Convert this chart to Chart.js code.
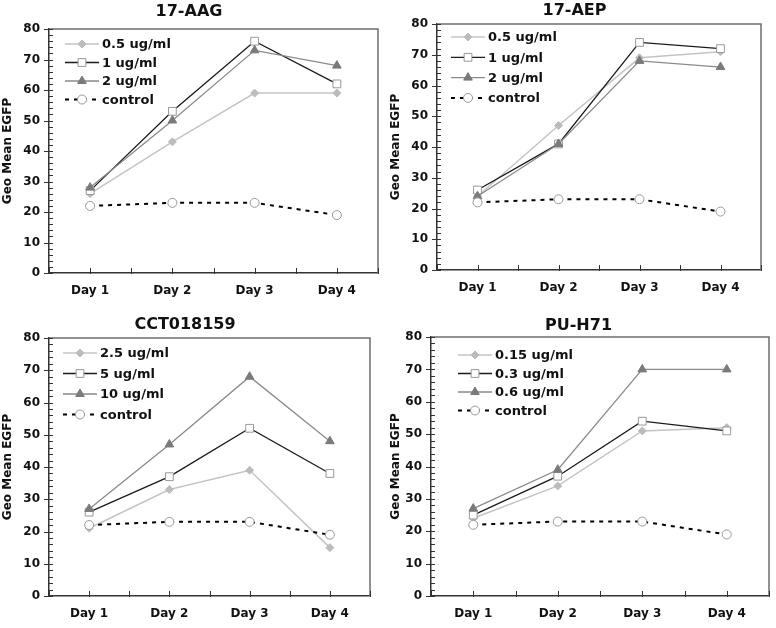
<!DOCTYPE html>
<html>
<head>
<meta charset="utf-8">
<script src="https://cdn.jsdelivr.net/npm/chart.js@4.4.1/dist/chart.umd.min.js"></script>
<style>
  html, body { margin: 0; padding: 0; background: #fff; }
  #wrap { position: relative; width: 776px; height: 628px; }
  .panel { position: absolute; width: 388px; }
</style>
</head>
<body>
<div id="wrap">
  <div class="panel" style="left:0;top:0;height:310px"><canvas id="c1"></canvas></div>
  <div class="panel" style="left:388px;top:0;height:310px"><canvas id="c2"></canvas></div>
  <div class="panel" style="left:0;top:310px;height:318px"><canvas id="c3"></canvas></div>
  <div class="panel" style="left:388px;top:310px;height:318px"><canvas id="c4"></canvas></div>
</div>
<script>
// values
const days = ['Day 1', 'Day 2', 'Day 3', 'Day 4'];
const controlEGFP = [22, 23, 23, 19];

const aagDoses = ['0.5 ug/ml', '1 ug/ml', '2 ug/ml', 'control'];
const aagLow = [26, 43, 59, 59];
const aagMid = [27, 53, 76, 62];
const aagHigh = [28, 50, 73, 68];

const aepDoses = ['0.5 ug/ml', '1 ug/ml', '2 ug/ml', 'control'];
const aepLow = [24, 47, 69, 71];
const aepMid = [26, 41, 74, 72];
const aepHigh = [24, 41, 68, 66];

const cctDoses = ['2.5 ug/ml', '5 ug/ml', '10 ug/ml', 'control'];
const cctLow = [21, 33, 39, 15];
const cctMid = [26, 37, 52, 38];
const cctHigh = [27, 47, 68, 48];

const puDoses = ['0.15 ug/ml', '0.3 ug/ml', '0.6 ug/ml', 'control'];
const puLow = [24, 34, 51, 52];
const puMid = [25, 37, 54, 51];
const puHigh = [27, 39, 70, 70];

const yMax = 80;
const yStep = 10;
const yMinorStep = 2;

Chart.defaults.font.family = '"DejaVu Sans", Verdana, sans-serif';

// line / marker look per series (low dose, mid dose, high dose, control)
const seriesStyle = [
  { borderColor: '#c4c4c4', borderWidth: 1.5, pointStyle: 'rectRot', pointRadius: 4,
    pointBackgroundColor: '#bcbcbc', pointBorderColor: '#bcbcbc', pointBorderWidth: 1 },
  { borderColor: '#1a1a1a', borderWidth: 1.3, pointStyle: 'rect', pointRadius: 5.5,
    pointBackgroundColor: '#fff', pointBorderColor: '#999', pointBorderWidth: 1 },
  { borderColor: '#8a8a8a', borderWidth: 1.3, pointStyle: 'triangle', pointRadius: 5,
    pointBackgroundColor: '#7a7a7a', pointBorderColor: '#7a7a7a', pointBorderWidth: 1 },
  { borderColor: '#000', borderWidth: 2, borderDash: [4, 5], pointStyle: 'circle', pointRadius: 4.5,
    pointBackgroundColor: '#fff', pointBorderColor: '#999', pointBorderWidth: 1 }
];

const panels = [
  { id: 'c1', title: '17-AAG', doses: aagDoses, series: [aagLow, aagMid, aagHigh, controlEGFP],
    h: 310, area: { left: 49, right: 378, top: 29, bottom: 273 }, titleY: 12,
    legend: { dx: 16, dy: 15, gap: 18.5 } },
  { id: 'c2', title: '17-AEP', doses: aepDoses, series: [aepLow, aepMid, aepHigh, controlEGFP],
    h: 310, area: { left: 49, right: 373, top: 24, bottom: 270 }, titleY: 11,
    legend: { dx: 14, dy: 13, gap: 20.3 } },
  { id: 'c3', title: 'CCT018159', doses: cctDoses, series: [cctLow, cctMid, cctHigh, controlEGFP],
    h: 318, area: { left: 49, right: 370, top: 28, bottom: 286 }, titleY: 15,
    legend: { dx: 14, dy: 15, gap: 20.5 } },
  { id: 'c4', title: 'PU-H71', doses: puDoses, series: [puLow, puMid, puHigh, controlEGFP],
    h: 318, area: { left: 43, right: 381, top: 27, bottom: 286 }, titleY: 16,
    legend: { dx: 27, dy: 18, gap: 18.5 } }
];

// top/right frame plus the small tick marks (major + minor on y, categories + boundaries on x)
const framePlugin = {
  id: 'frame',
  beforeDatasetsDraw(chart) {
    const { ctx, chartArea: a, scales: { x, y } } = chart;
    ctx.save();
    ctx.strokeStyle = '#6e6e6e';
    ctx.lineWidth = 1.5;
    ctx.beginPath();
    ctx.moveTo(a.left, a.top);
    ctx.lineTo(a.right, a.top);
    ctx.lineTo(a.right, a.bottom);
    ctx.stroke();

    ctx.strokeStyle = '#333';
    ctx.lineWidth = 1;
    for (let v = 0; v <= yMax; v += yMinorStep) {
      const py = Math.round(y.getPixelForValue(v)) + 0.5;
      const major = v % yStep === 0;
      ctx.beginPath();
      ctx.moveTo(a.left - (major ? 5 : 0), py);
      ctx.lineTo(a.left + 4, py);
      ctx.stroke();
    }
    for (let i = 0; i <= days.length; i++) {
      const pts = [x.getPixelForValue(i - 0.5)];
      if (i < days.length) pts.push(x.getPixelForValue(i));
      pts.forEach(px => {
        px = Math.round(px) + 0.5;
        ctx.beginPath();
        ctx.moveTo(px, a.bottom + 1);
        ctx.lineTo(px, a.bottom - 5);
        ctx.stroke();
      });
    }
    ctx.restore();
  }
};

// legend inside the plot: line sample with the marker in its middle
const insideLegend = {
  id: 'insideLegend',
  afterDraw(chart, args, opts) {
    const { ctx, chartArea: a } = chart;
    ctx.save();
    chart.data.datasets.forEach((ds, i) => {
      const yRow = a.top + opts.dy + i * opts.gap;
      const x0 = a.left + opts.dx;
      ctx.strokeStyle = ds.borderColor;
      ctx.lineWidth = ds.borderWidth;
      ctx.setLineDash(ds.borderDash || []);
      ctx.beginPath();
      ctx.moveTo(x0, yRow);
      ctx.lineTo(x0 + 34, yRow);
      ctx.stroke();
      ctx.setLineDash([]);
      ctx.fillStyle = ds.pointBackgroundColor;
      ctx.strokeStyle = ds.pointBorderColor;
      ctx.lineWidth = ds.pointBorderWidth;
      Chart.helpers.drawPoint(ctx, {
        pointStyle: ds.pointStyle, radius: ds.pointRadius, rotation: 0, borderWidth: ds.pointBorderWidth
      }, x0 + 17, yRow);
      ctx.fillStyle = '#111';
      ctx.font = 'bold 13px "DejaVu Sans", Verdana, sans-serif';
      ctx.textBaseline = 'middle';
      ctx.textAlign = 'left';
      ctx.fillText(ds.label, x0 + 37, yRow + 1);
    });
    ctx.restore();
  }
};

panels.forEach(p => {
  const datasets = p.series.map((vals, i) => Object.assign({
    label: p.doses[i],
    data: vals,
    fill: false,
    tension: 0,
    order: 3 - i
  }, seriesStyle[i]));

  new Chart(document.getElementById(p.id), {
    type: 'line',
    data: { labels: days, datasets: datasets },
    plugins: [framePlugin, insideLegend],
    options: {
      responsive: true,
      maintainAspectRatio: false,
      animation: false,
      layout: { padding: { left: 0, right: 388 - p.area.right, top: 0, bottom: 0 } },
      plugins: {
        legend: { display: false },
        tooltip: { enabled: false },
        title: {
          display: true,
          text: p.title,
          color: '#111',
          font: { size: 16, weight: 'bold', lineHeight: 1.2 },
          padding: { top: p.titleY - 9.6, bottom: p.area.top - (p.titleY + 9.6) }
        },
        insideLegend: p.legend
      },
      scales: {
        x: {
          type: 'category',
          offset: true,
          grid: { display: false, drawTicks: false },
          border: { display: true, color: '#333', width: 1.5 },
          ticks: { color: '#111', font: { size: 12, weight: 'bold' }, padding: 11 },
          afterFit(s) { s.height = p.h - p.area.bottom; }
        },
        y: {
          min: 0,
          max: yMax,
          grid: { display: false, drawTicks: false },
          border: { display: true, color: '#333', width: 1.5 },
          ticks: { stepSize: yStep, color: '#111', font: { size: 12, weight: 'bold' }, padding: 9 },
          title: {
            display: true,
            text: 'Geo Mean EGFP',
            color: '#111',
            font: { size: 12, weight: 'bold' },
            padding: { top: 1, bottom: 0 }
          },
          afterFit(s) { s.width = p.area.left; }
        }
      }
    }
  });
});
</script>
</body>
</html>
